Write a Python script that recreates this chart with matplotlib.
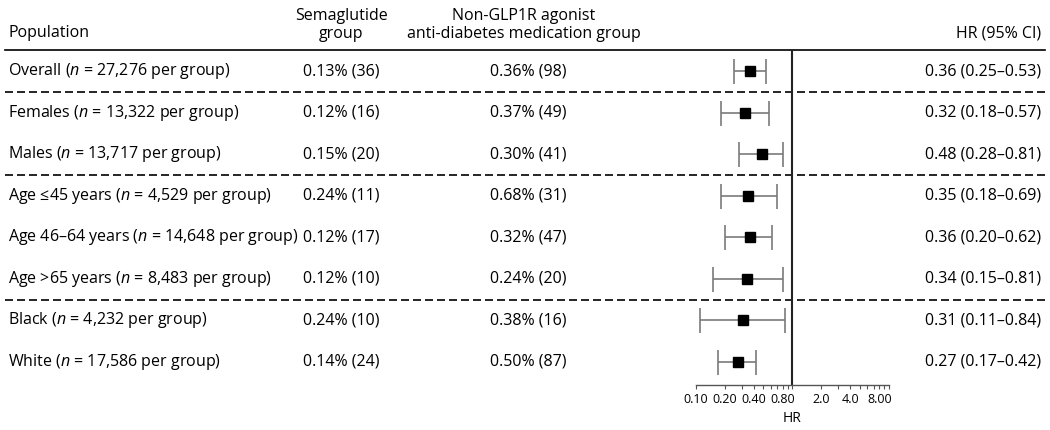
import matplotlib
matplotlib.use("Agg")
import matplotlib.pyplot as plt
from matplotlib.ticker import FixedLocator, FixedFormatter, NullFormatter

FONT = 'Open Sans'
plt.rcParams['font.family'] = [FONT, 'DejaVu Sans']
plt.rcParams['mathtext.fontset'] = 'custom'
plt.rcParams['mathtext.rm'] = FONT
plt.rcParams['mathtext.it'] = FONT + ':italic'

# ---------------- data ----------------
populations = [
    "Overall ($n$ = 27,276 per group)",
    "Females ($n$ = 13,322 per group)",
    "Males ($n$ = 13,717 per group)",
    "Age \u226445 years ($n$ = 4,529 per group)",
    "Age 46\u201364 years ($n$ = 14,648 per group)",
    "Age >65 years ($n$ = 8,483 per group)",
    "Black ($n$ = 4,232 per group)",
    "White ($n$ = 17,586 per group)",
]
sema_col = ["0.13% (36)", "0.12% (16)", "0.15% (20)", "0.24% (11)",
            "0.12% (17)", "0.12% (10)", "0.24% (10)", "0.14% (24)"]
nonglp_col = ["0.36% (98)", "0.37% (49)", "0.30% (41)", "0.68% (31)",
              "0.32% (47)", "0.24% (20)", "0.38% (16)", "0.50% (87)"]
hr = [0.36, 0.32, 0.48, 0.35, 0.36, 0.34, 0.31, 0.27]
ci_low = [0.25, 0.18, 0.28, 0.18, 0.20, 0.15, 0.11, 0.17]
ci_high = [0.53, 0.57, 0.81, 0.69, 0.62, 0.81, 0.84, 0.42]
separators_after = [0, 2, 5]
major_ticks = [0.1, 0.2, 0.4, 0.8, 2, 4, 8]
major_labels = ["0.10", "0.20", "0.40", "0.80", "2.0", "4.0", "8.00"]
minor_ticks = [0.3, 0.5, 0.6, 0.7, 0.9, 1, 3, 5, 6, 7, 9, 10]

# ---------------- layout (pixels) ----------------
W, H = 1050, 430
row0_y = 71.0
row_step = 41.57
header_line_y = 50.0
axis_y = 385.0
x_lo_px, x_hi_px = 696.0, 888.6

fig = plt.figure(figsize=(W / 100, H / 100), dpi=100)
bg = fig.add_axes([0, 0, 1, 1])
bg.set_xlim(0, W)
bg.set_ylim(H, 0)
bg.axis('off')

fs = 11.5
# headers
bg.text(8, 33, "Population", ha='left', va='center', fontsize=fs)
bg.text(341, 25, "Semaglutide\ngroup", ha='center', va='center', fontsize=fs,
        linespacing=1.2)
bg.text(524, 25, "Non-GLP1R agonist\nanti-diabetes medication group",
        ha='center', va='center', fontsize=fs, linespacing=1.2)
bg.text(1041, 33, "HR (95% CI)", ha='right', va='center', fontsize=fs)
bg.plot([5, 1045], [header_line_y, header_line_y], color='black', lw=1.2)

for i, (p, s, n, h, lo, hi) in enumerate(zip(populations, sema_col, nonglp_col,
                                               hr, ci_low, ci_high)):
    y = row0_y + i * row_step
    bg.text(8, y, p, ha='left', va='center', fontsize=fs)
    bg.text(341, y, s, ha='center', va='center', fontsize=fs)
    bg.text(528, y, n, ha='center', va='center', fontsize=fs)
    bg.text(1041, y, f"{h:.2f} ({lo:.2f}\u2013{hi:.2f})", ha='right',
            va='center', fontsize=fs)

for k in separators_after:
    y = row0_y + (k + 0.5) * row_step
    bg.plot([5, 1045], [y, y], color='black', lw=1.2,
            linestyle=(0, (4.8, 2.4)))

# ---------------- forest axes ----------------
n_rows = len(hr)
y_top = (header_line_y - row0_y) / row_step
y_bot = (axis_y - row0_y) / row_step
ax = fig.add_axes([x_lo_px / W, 1 - axis_y / H, (x_hi_px - x_lo_px) / W,
                   (axis_y - header_line_y) / H])
ax.patch.set_alpha(0)
ax.set_xscale('log')
ax.set_xlim(0.1, 10)
ax.set_ylim(y_bot, y_top)
rows = list(range(n_rows))
err = [[h - lo for h, lo in zip(hr, ci_low)], [hi - h for h, hi in zip(hr, ci_high)]]
ax.errorbar(hr, rows, xerr=err, fmt='none', ecolor='#7a7a7a', elinewidth=1.2,
            capsize=9, capthick=1.2, zorder=2)
ax.plot(hr, rows, 's', color='black', markersize=7.5, zorder=3)
ax.axvline(1.0, color='#222222', lw=1.5, zorder=1)

for sp in ['top', 'right', 'left']:
    ax.spines[sp].set_visible(False)
ax.spines['bottom'].set_color('#555555')
ax.spines['bottom'].set_linewidth(1.0)
ax.set_yticks([])
ax.xaxis.set_major_locator(FixedLocator(major_ticks))
ax.xaxis.set_major_formatter(FixedFormatter(major_labels))
ax.xaxis.set_minor_locator(FixedLocator(minor_ticks))
ax.xaxis.set_minor_formatter(NullFormatter())
ax.tick_params(axis='x', which='both', length=3, width=0.8, color='#555555',
               labelsize=9, pad=3)
ax.set_xlabel("HR", fontsize=10, labelpad=3)

fig.savefig("out.png", dpi=100)
